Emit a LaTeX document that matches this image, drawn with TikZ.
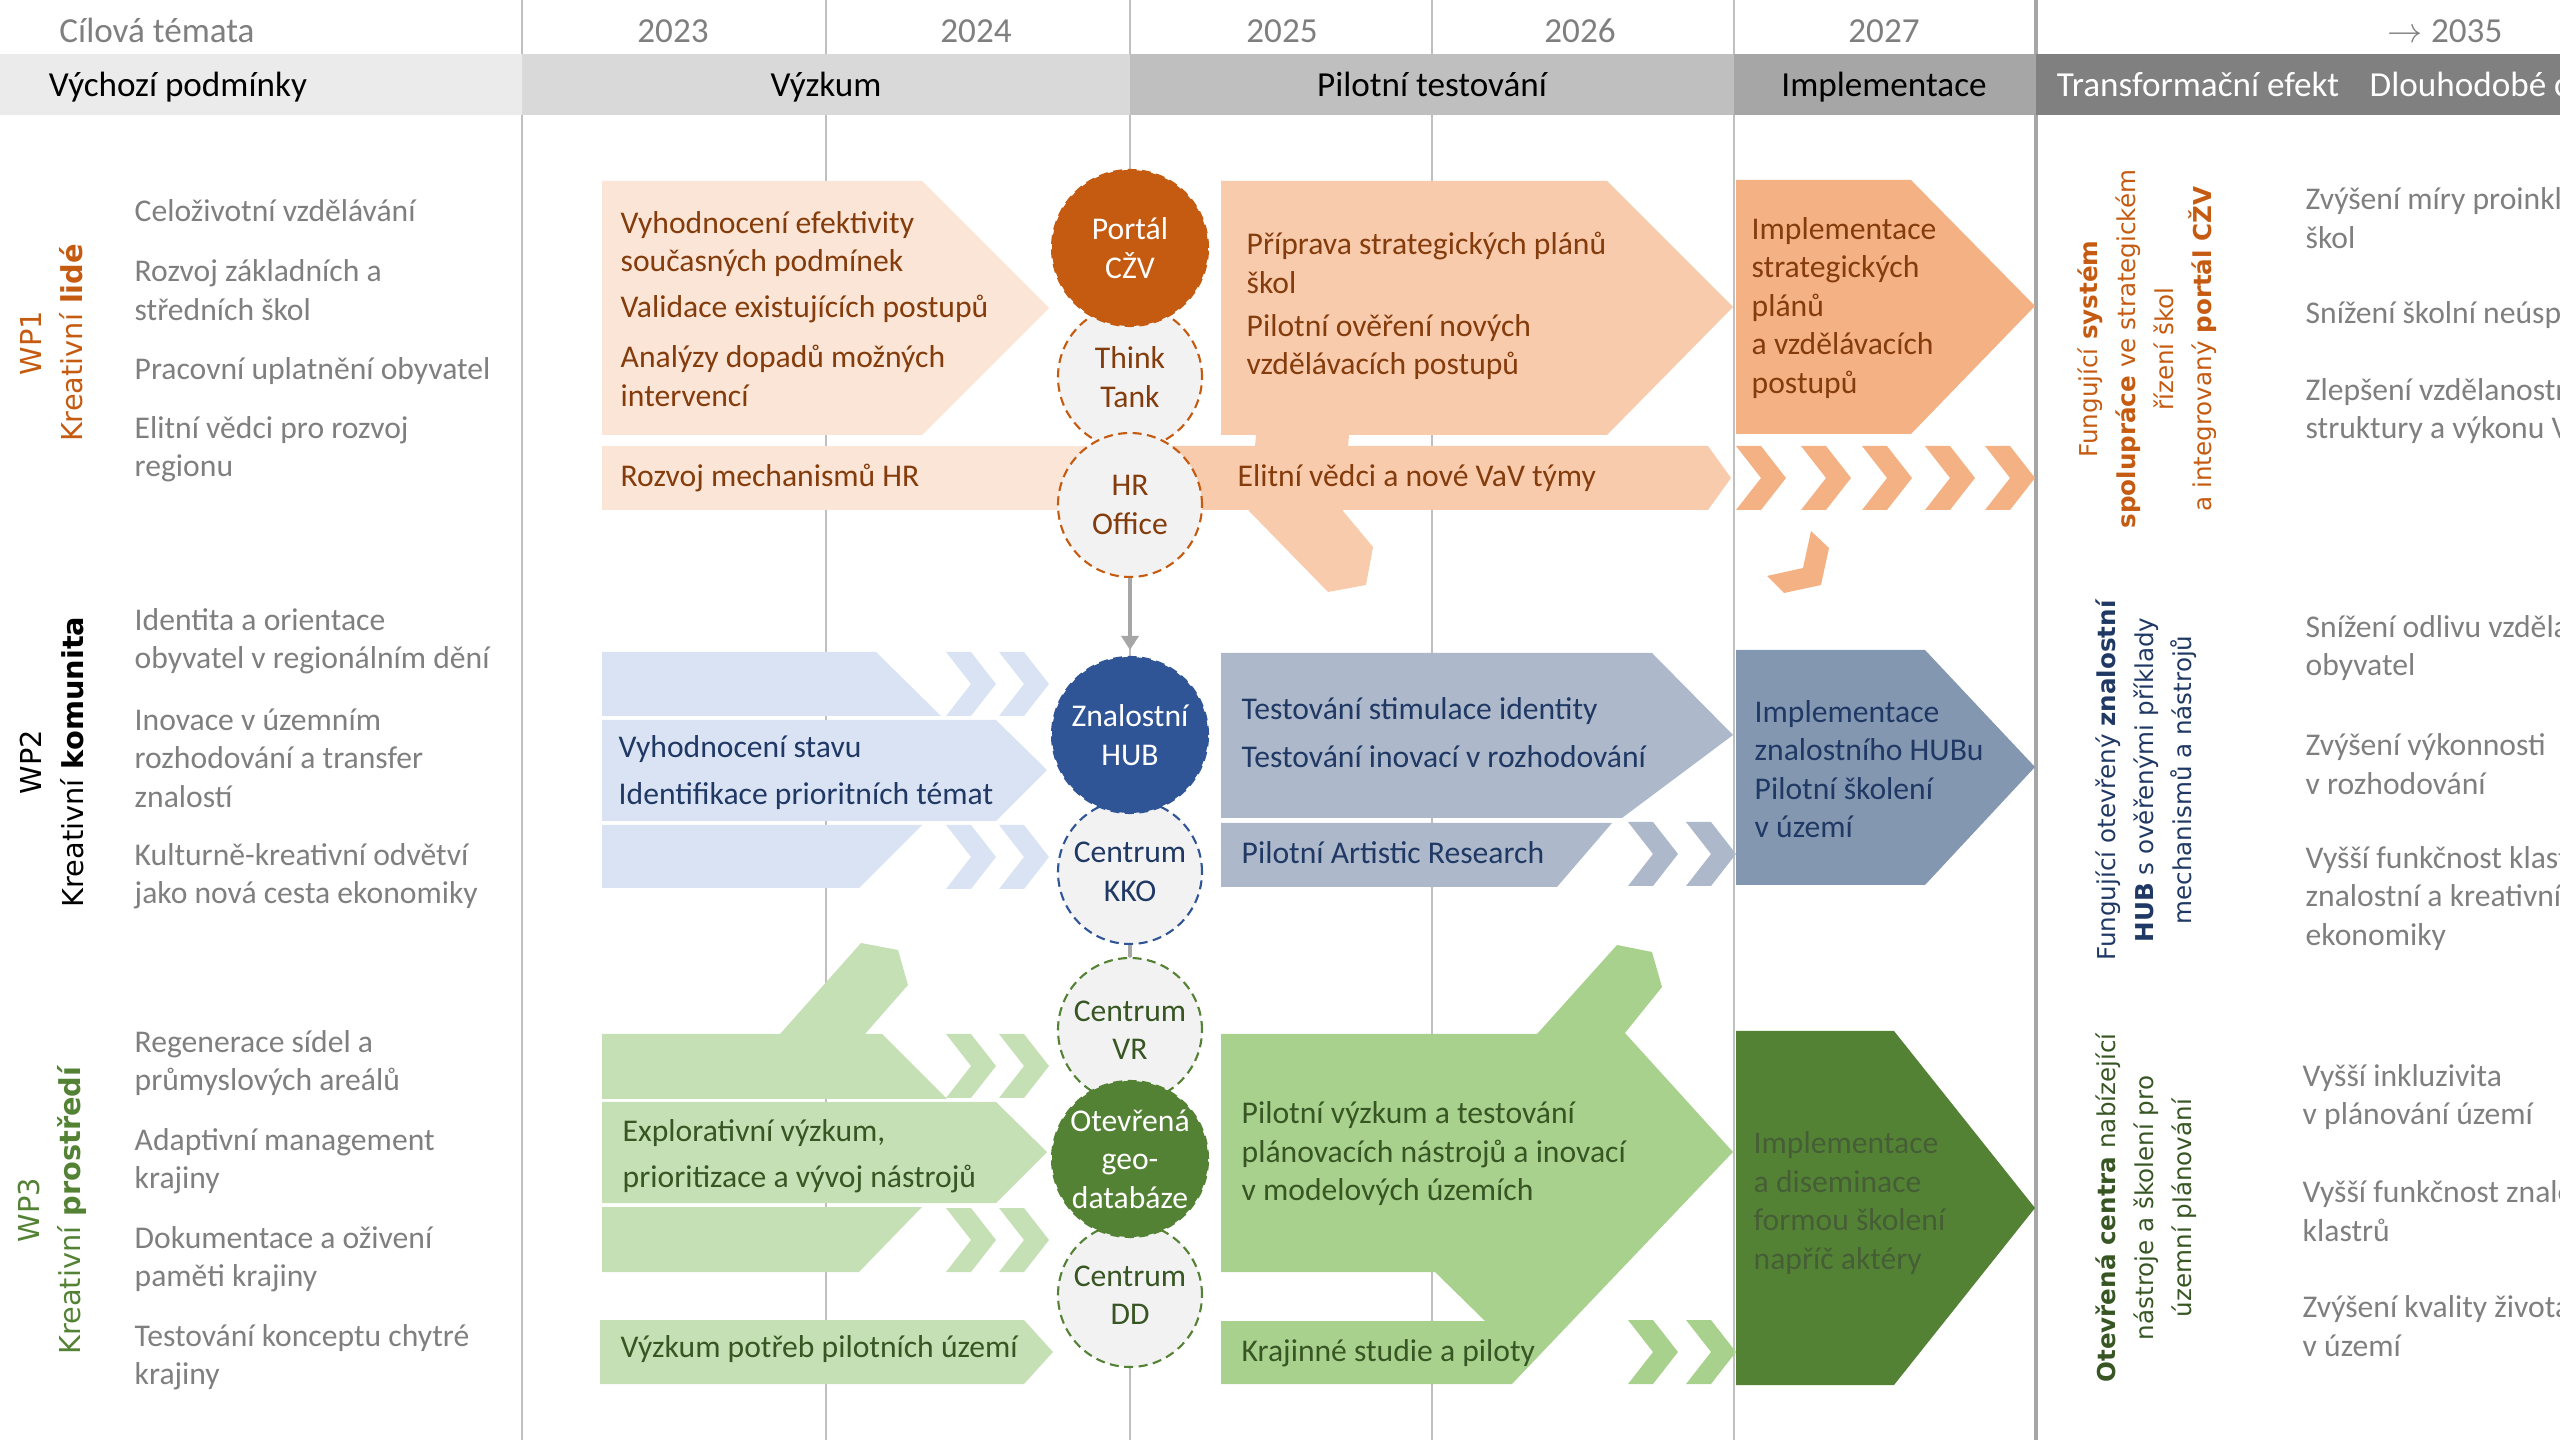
\documentclass[tikz,border=0pt]{standalone}
\usepackage{fontspec}
\setmainfont{Carlito}
\newfontfamily\verdfont{DejaVu Sans}
\usetikzlibrary{arrows.meta}

\definecolor{gridgray}{HTML}{BFBFBF}
\definecolor{textgray}{HTML}{7F7F7F}
\definecolor{bandA}{HTML}{EBEBEB}
\definecolor{bandB}{HTML}{D9D9D9}
\definecolor{bandC}{HTML}{BFBFBF}
\definecolor{bandD}{HTML}{A6A6A6}
\definecolor{bandE}{HTML}{808080}
\definecolor{orangeA}{HTML}{FBE5D6}
\definecolor{orangeB}{HTML}{F8CBAD}
\definecolor{orangeC}{HTML}{F4B183}
\definecolor{orangeD}{HTML}{C55A11}
\definecolor{orangeT}{HTML}{843C0C}
\definecolor{blueA}{HTML}{DAE3F3}
\definecolor{blueB}{HTML}{ADB9CA}
\definecolor{blueC}{HTML}{8497B0}
\definecolor{blueD}{HTML}{2F5597}
\definecolor{blueT}{HTML}{1F3864}
\definecolor{greenA}{HTML}{C5E0B4}
\definecolor{greenB}{HTML}{A9D18E}
\definecolor{greenC}{HTML}{548235}
\definecolor{greenT}{HTML}{375623}
\definecolor{ringfill}{HTML}{F2F2F2}

\tikzset{
  txt/.style={inner sep=0pt, anchor=west, align=left, font=\fontsize{9}{10.95}\selectfont},
  item/.style={txt, text=textgray},
  head/.style={inner sep=0pt, anchor=base, font=\fontsize{10}{12}\selectfont},
  wplabel/.style={inner sep=0pt, rotate=90, align=center, font=\verdfont\fontsize{8.2}{11.7}\selectfont},
  goal/.style={inner sep=0pt, rotate=90, align=center, font=\verdfont\fontsize{7}{10.8}\selectfont},
  ring/.style={circle, draw=#1, fill=ringfill, dash pattern=on 0.9mm off 0.55mm, line width=0.6pt,
    minimum size=14.4mm, inner sep=0pt, align=center, font=\fontsize{9}{10.95}\selectfont},
  core/.style={ring=#1, fill=#1, text=white, minimum size=15.6mm},
  conn/.style={draw=bandD, line width=1.1pt},
}

\begin{document}
\begin{tikzpicture}[x=0.1mm, y=-0.1mm]
\useasboundingbox (0,0) rectangle (2560,1440);
\clip (0,0) rectangle (2560,1440);

\foreach \x in {522,826,1130,1432,1734} \draw[gridgray, line width=0.45pt] (\x,0) -- (\x,1440);
\draw[bandD, line width=0.9pt] (2036,0) -- (2036,1440);

\fill[bandA] (0,54) rectangle (522,115);
\fill[bandB] (522,54) rectangle (1130,115);
\fill[bandC] (1130,54) rectangle (1734,115);
\fill[bandD] (1734,54) rectangle (2036,115);
\fill[bandE] (2036,54) rectangle (2560,115);

\node[head, text=textgray] (cil) at (157,43) {Cílová témata};
\foreach \x/\yr in {673/2023, 976/2024, 1282/2025, 1580/2026, 1884/2027}
  \node[head, text=textgray] (y\yr) at (\x,43) {\yr};
\node[head, text=textgray, anchor=base east] (y2035) at (2503,43) {$\rightarrow$ 2035};

\node[head] (vychozi) at (178,97) {Výchozí podmínky};
\node[head] (vyzkum) at (826,97) {Výzkum};
\node[head] (pilot) at (1432,97) {Pilotní testování};
\node[head] (impl) at (1884,97) {Implementace};
\node[head, text=white] (transf) at (2198,97) {Transformační efekt};
\node[head, text=white, anchor=base west] (dlouh) at (2369,97) {Dlouhodobé cíle};

% WP1
\fill[orangeA] (602,181) -- (922,181) -- (1049,308) -- (922,435) -- (602,435) -- cycle;
\fill[orangeA] (602,446) rectangle (1165,510);
\fill[orangeB] (1221,181) -- (1607,181) -- (1733,307) -- (1607,435) -- (1221,435) -- cycle;
\fill[orangeB] (1256,435) -- (1349,435) -- (1343,511) -- (1373,547) -- (1366,585) -- (1328,592) -- (1249,511) -- cycle;
\fill[orangeB] (1165,446) -- (1708,446) -- (1731,478) -- (1708,510) -- (1165,510) -- cycle;
\fill[orangeC] (1736,180) -- (1911,180) -- (2035,306) -- (1911,434) -- (1736,434) -- cycle;
\fill[orangeC] (1811,531) -- (1829,548) -- (1821,585) -- (1784,593) -- (1767,576) -- (1803,568) -- cycle;

% WP2
\fill[blueA] (602,652) -- (876,652) -- (941,716) -- (602,716) -- cycle;
\fill[blueA] (602,720) -- (996,720) -- (1047,770) -- (996,821) -- (602,821) -- cycle;
\fill[blueA] (602,825) -- (922,825) -- (859,888) -- (602,888) -- cycle;
\fill[blueB] (1221,653) -- (1652,653) -- (1733,735) -- (1622,818) -- (1221,818) -- cycle;
\fill[blueB] (1221,823) -- (1612,823) -- (1557,887) -- (1221,887) -- cycle;
\fill[blueC] (1736,650) -- (1925,650) -- (2035,767) -- (1925,885) -- (1736,885) -- cycle;

% WP3
\fill[greenA] (602,1034) -- (780,1034) -- (861,943) -- (898,950) -- (908,985) -- (865,1034) -- (882,1034) -- (947,1099) -- (602,1099) -- cycle;
\fill[greenA] (602,1102) -- (996,1102) -- (1047,1152) -- (996,1203) -- (602,1203) -- cycle;
\fill[greenA] (602,1207) -- (922,1207) -- (859,1272) -- (602,1272) -- cycle;
\fill[greenA] (600,1320) -- (1024,1320) -- (1053,1352) -- (1024,1384) -- (600,1384) -- cycle;
\fill[greenB] (1221,1034) -- (1537,1034) -- (1617,945) -- (1652,952) -- (1662,987) -- (1625,1033) -- (1733,1152) -- (1512,1384) -- (1221,1384) -- (1221,1321) -- (1485,1321) -- (1435,1272) -- (1221,1272) -- cycle;
\fill[greenC] (1736,1031) -- (1894,1031) -- (2035,1208) -- (1894,1385) -- (1736,1385) -- cycle;

\foreach \x/\y/\c in {1736/446/orangeC, 1801/446/orangeC, 1862/446/orangeC, 1925/446/orangeC, 1985/446/orangeC,
    946/652/blueA, 999/652/blueA, 946/825/blueA, 999/825/blueA, 1628/822/blueB, 1686/822/blueB,
    946/1034/greenA, 999/1034/greenA, 946/1208/greenA, 999/1208/greenA, 1628/1320/greenB, 1686/1320/greenB}
  \fill[\c] (\x,\y) -- ++(25,0) -- ++(25,32) -- ++(-25,32) -- ++(-25,0) -- ++(25,-32) -- cycle;

\node[ring=orangeD, text=orangeT] (tank) at (1130,377) {Think\\Tank};
\node[ring=orangeD, text=orangeT] (hr) at (1130,505) {HR\\Office};
\node[core=orangeD] (czv) at (1130,248) {Portál\\CŽV};
\node[ring=blueD, text=blueT] (kko) at (1130,872) {Centrum\\KKO};
\node[core=blueD] (hub) at (1130,735) {Znalostní\\HUB};
\node[ring=greenC, text=greenT] (vr) at (1130,1030) {Centrum\\VR};
\node[ring=greenC, text=greenT] (dd) at (1130,1295) {Centrum\\DD};
\node[core=greenC] (geo) at (1130,1159) {Otevřená\\geo-\\databáze};

\draw[conn, -{Triangle[length=1.4mm, width=1.7mm]}, shorten >=0.6mm] (hr) -- (hub);
\draw[conn] (kko) -- (vr);

\node[wplabel, text=orangeD] (wp1) at (52,343) {WP1\\Kreativní \textbf{lidé}};
\node[wplabel, text=black] (wp2) at (52,762) {WP2\\Kreativní \textbf{komunita}};
\node[wplabel, text=greenC] (wp3) at (52,1210) {WP3\\Kreativní \textbf{prostředí}};

\node[item] (a1) at (134,211) {Celoživotní vzdělávání};
\node[item] (a2) at (134,290) {Rozvoj základních a\\středních škol};
\node[item] (a3) at (134,371) {Pracovní uplatnění obyvatel};
\node[item] (a4) at (134,449) {Elitní vědci pro rozvoj\\regionu};
\node[item] (b1) at (134,641) {Identita a orientace\\obyvatel v regionálním dění};
\node[item] (b2) at (134,758) {Inovace v územním\\rozhodování a transfer\\znalostí};
\node[item] (b3) at (134,876) {Kulturně-kreativní odvětví\\jako nová cesta ekonomiky};
\node[item] (c1) at (134,1063) {Regenerace sídel a\\průmyslových areálů};
\node[item] (c2) at (134,1161) {Adaptivní management\\krajiny};
\node[item] (c3) at (134,1259) {Dokumentace a oživení\\paměti krajiny};
\node[item] (c4) at (134,1357) {Testování konceptu chytré\\krajiny};

\node[txt, text=orangeT] (r1a) at (620,244) {Vyhodnocení efektivity\\současných podmínek};
\node[txt, text=orangeT] (r1b) at (620,309) {Validace existujících postupů};
\node[txt, text=orangeT] (r1c) at (620,376) {Analýzy dopadů možných\\intervencí};
\node[txt, text=orangeT] (r1d) at (620,478) {Rozvoj mechanismů HR};
\node[txt, text=orangeT] (p1a) at (1246,263) {Příprava strategických plánů\\škol};
\node[txt, text=orangeT] (p1b) at (1246,347) {Pilotní ověření nových\\vzdělávacích postupů};
\node[txt, text=orangeT] (p1c) at (1237,478) {Elitní vědci a nové VaV týmy};
\node[txt, text=orangeT] (i1) at (1751,308) {Implementace\\strategických\\plánů\\a vzdělávacích\\postupů};

\node[txt, text=blueT] (r2a) at (618,749) {Vyhodnocení stavu};
\node[txt, text=blueT] (r2b) at (618,796) {Identifikace prioritních témat};
\node[txt, text=blueT] (p2a) at (1241,711) {Testování stimulace identity};
\node[txt, text=blueT] (p2b) at (1241,757) {Testování inovací v rozhodování};
\node[txt, text=blueT] (p2c) at (1241,853) {Pilotní Artistic Research};
\node[txt, text=blueT] (i2) at (1754,769) {Implementace\\znalostního HUBu\\Pilotní školení\\v území};

\node[txt, text=greenT] (r3a) at (622,1156) {Explorativní výzkum,\\[0.7mm]prioritizace a vývoj nástrojů};
\node[txt, text=greenT] (r3b) at (620,1349) {Výzkum potřeb pilotních území};
\node[txt, text=greenT] (p3a) at (1241,1154) {Pilotní výzkum a testování\\plánovacích nástrojů a inovací\\v modelových územích};
\node[txt, text=greenT] (p3b) at (1241,1353) {Krajinné studie a piloty};
\node[txt, text=greenT!80!gray] (i3) at (1753,1203) {Implementace\\a diseminace\\formou školení\\napříč aktéry};

\node[goal, text=orangeD] (g1) at (2147,349) {Fungující \textbf{systém}\\\textbf{spolupráce} ve strategickém\\řízení škol\\a integrovaný \textbf{portál CŽV}};
\node[goal, text=blueT] (g2) at (2146,780) {Fungující otevřený \textbf{znalostní}\\\textbf{HUB} s ověřenými příklady\\mechanismů a nástrojů};
\node[goal, text=greenT] (g3) at (2146,1208) {\textbf{Otevřená centra} nabízející\\nástroje a školení pro\\územní plánování};

\node[item] (d1) at (2305,218) {Zvýšení míry proinkluzivity\\škol};
\node[item] (d2) at (2305,315) {Snížení školní neúspěšnosti};
\node[item] (d3) at (2305,411) {Zlepšení vzdělanostní\\struktury a výkonu VaV};
\node[item] (e1) at (2305,648) {Snížení odlivu vzdělaných\\obyvatel};
\node[item] (e2) at (2305,764) {Zvýšení výkonnosti\\v rozhodování};
\node[item] (e3) at (2305,898) {Vyšší funkčnost klastrů\\znalostní a kreativní\\ekonomiky};
\node[item] (f1) at (2302,1097) {Vyšší inkluzivita\\v plánování území};
\node[item] (f2) at (2302,1211) {Vyšší funkčnost znalostních\\klastrů};
\node[item] (f3) at (2302,1326) {Zvýšení kvality života\\v území};
\end{tikzpicture}
\end{document}
